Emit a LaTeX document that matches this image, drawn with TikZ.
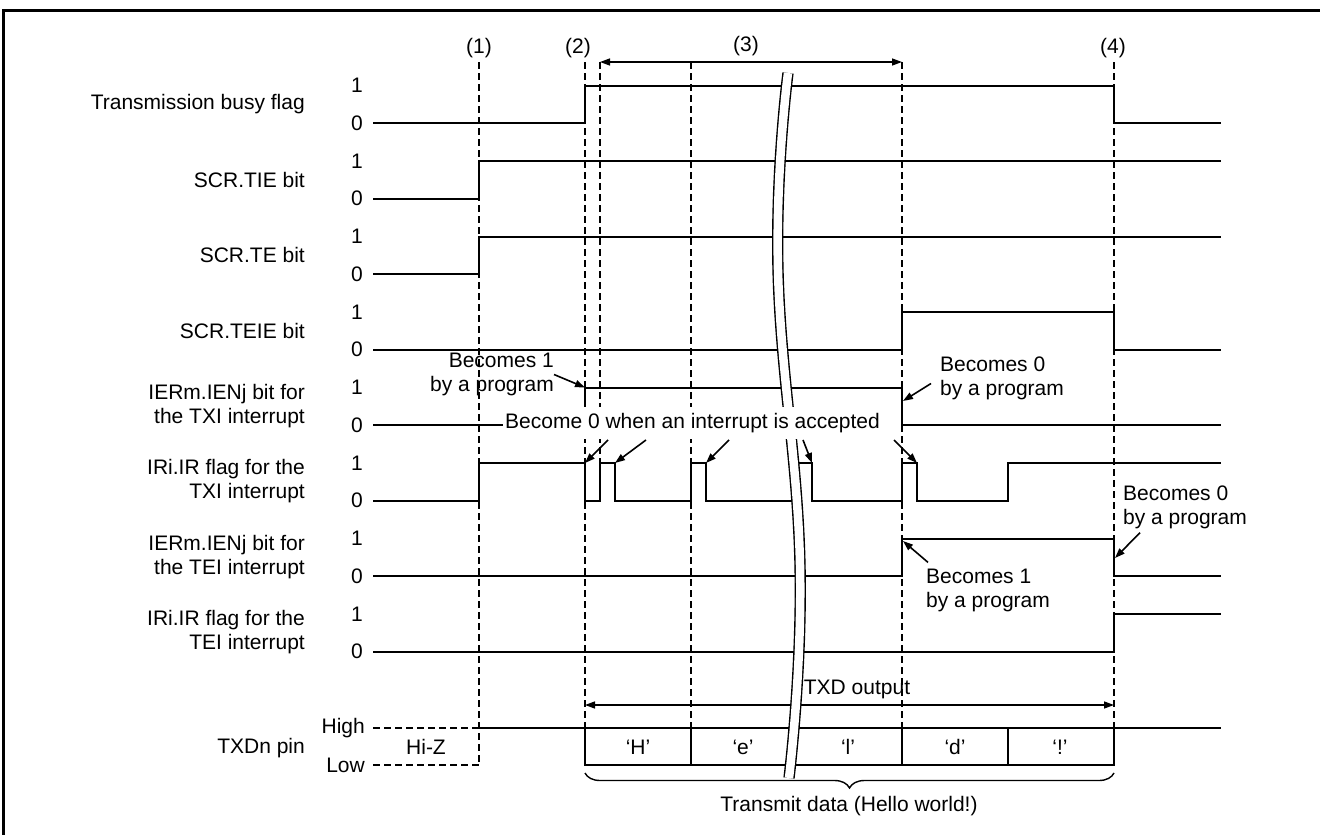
\documentclass[tikz,border=0pt]{standalone}
\usepackage{fontspec}
\setmainfont{Liberation Sans}
\usetikzlibrary{arrows.meta,positioning,calc,decorations.pathreplacing}
\tikzset{
  every node/.style={font=\fontsize{21}{24}\selectfont, inner sep=0pt},
  % waveforms, timing marks and the annotation arrows
  sig/.style={line width=2pt},
  tline/.style={line width=2.8pt, dash pattern=on 7pt off 4pt},
  arr/.style={-{Triangle[length=10pt,width=7pt]}, line width=1.6pt},
  darr/.style={{Triangle[length=10pt,width=7pt]}-{Triangle[length=10pt,width=7pt]}, line width=1.4pt},
  rowlab/.style={anchor=east, align=right},
  note/.style={align=left, anchor=west},
  brk/.style={line width=1.4pt, double=white, double distance=8.5pt},
}

\begin{document}
\begin{tikzpicture}[x=1pt,y=-1pt]
  \useasboundingbox (0,0) rectangle (1320,835);
  \draw[line width=3pt] (3,835) -- (3,10) -- (1320,10);

  % ---- signal names and levels ----
  \foreach \t [count=\i from 0] in {Transmission busy flag, SCR.TIE bit, SCR.TE bit, SCR.TEIE bit,
      {IERm.IENj bit for\\the TXI interrupt}, {IRi.IR flag for the\\TXI interrupt},
      {IERm.IENj bit for\\the TEI interrupt}, {IRi.IR flag for the\\TEI interrupt}}{
    \node[rowlab] (lab\i) at (305,104+75.5*\i) {\t};
    \node (one\i) at (357,85.5+75.5*\i) {1};
    \node (zero\i) at (357,123+75.5*\i) {0};
  }
  \node[rowlab] (txdlab) at (305,748) {TXDn pin};
  \node[anchor=east] (high) at (365,728) {High};
  \node[anchor=east] (low) at (365,765) {Low};

  % ---- timing points (1)..(4) ----
  \foreach \x/\e [count=\i] in {479/765, 585/765, 600/463, 691/728, 902/765, 1114/765}
    \draw[tline] (\x,62) coordinate (t\i) -- (\x,\e);
  \node (p1) at (479,48) {(1)};
  \node (p2) at (578,48) {(2)};
  \node (p3) at (746,46) {(3)};
  \node (p4) at (1113,48) {(4)};
  \draw[darr] (t3) -- (t5);

  % ---- waveforms ----
  \draw[sig] (373,123) -- (585,123) -- (585,85.5) -- (1114,85.5) -- (1114,123) -- (1221,123);
  \draw[sig] (373,198.5) -- (479,198.5) -- (479,161) -- (1221,161);
  \draw[sig] (373,274) -- (479,274) -- (479,236.5) -- (1221,236.5);
  \draw[sig] (373,349.5) -- (902,349.5) -- (902,312) -- (1114,312) -- (1114,349.5) -- (1221,349.5);
  \draw[sig] (373,425) -- (585,425) -- (585,387.5) -- (902,387.5) -- (902,425) -- (1221,425);
  \draw[sig] (373,500.5) -- (479,500.5) -- (479,463) -- (585,463) -- (585,500.5) -- (600,500.5)
    -- (600,463) -- (615,463) -- (615,500.5) -- (691,500.5) -- (691,463) -- (706,463) -- (706,500.5)
    -- (795,500.5) -- (795,463) -- (812,463) -- (812,500.5) -- (902,500.5) -- (902,463) -- (917,463)
    -- (917,500.5) -- (1008,500.5) -- (1008,463) -- (1221,463);
  \draw[sig] (373,576) -- (902,576) -- (902,538.5) -- (1114,538.5) -- (1114,576) -- (1221,576);
  \draw[sig] (373,651.5) -- (1114,651.5) -- (1114,614) -- (1221,614);

  % ---- TXD pin ----
  \draw[tline, line width=2.4pt] (373,728) -- (479,728) (373,765) -- (479,765);
  \node (hiz) at (426,747) {Hi-Z};
  \draw[sig] (479,728) -- (1221,728);
  \draw[sig] (585,728) -- (585,765) -- (1114,765) -- (1114,728);
  \foreach \x in {691,902,1008} \draw[sig] (\x,728) -- (\x,765);
  \foreach \c/\x [count=\i] in {H/638, e/743, l/848, d/955, !/1060}
    \node (ch\i) at (\x,747) {‘\c’};
  \coordinate (o1) at (585,705);
  \coordinate (o2) at (1114,705);
  \draw[darr] (o1) -- (o2);
  \node (txo) at (857,689) {TXD output};

  % ---- time break ----
  \draw[brk] plot[smooth, tension=0.75] coordinates {(788,73) (778,270) (800,565) (789,778)};

  \draw[decorate, decoration={brace, mirror, amplitude=15pt}, line width=1.4pt] (585,773) -- (1114,773);
  \node (bl) at (849,806) {Transmit data (Hello world!)};

  % ---- notes ----
  \coordinate (ie5up) at (585,387.5);
  \coordinate (ie5dn) at (903,401);
  \coordinate (ie7up) at (903,541);
  \coordinate (ie7dn) at (1115,558);
  \node[align=right, anchor=east] (n1) at (554,374.5) {Becomes 1\\by a program};
  \draw[arr] (n1.east) -- (ie5up);
  \node[note] (n2) at (940,378.5) {Becomes 0\\by a program};
  \draw[arr] ([xshift=-9pt,yshift=-5pt]n2.west) -- (ie5dn);
  \node[note] (n3) at (1123,507) {Becomes 0\\by a program};
  \draw[arr] ([xshift=17pt,yshift=-4pt]n3.south west) -- (ie7dn);
  \node[note] (n4) at (926,590) {Becomes 1\\by a program};
  \draw[arr] ([xshift=2pt,yshift=6pt]n4.north west) -- (ie7up);

  \node[fill=white, inner xsep=2pt, inner ysep=6pt, anchor=west] (acc) at (503,423)
    {Become 0 when an interrupt is accepted};
  \foreach \x/\d [count=\i] in {585/23, 615/31, 706/23, 812/-9, 917/-23}{
    \coordinate (f\i) at (\x,463);
    \draw[arr] ($(acc.south -| f\i)+(\d,1)$) -- (f\i);
  }
\end{tikzpicture}
\end{document}
